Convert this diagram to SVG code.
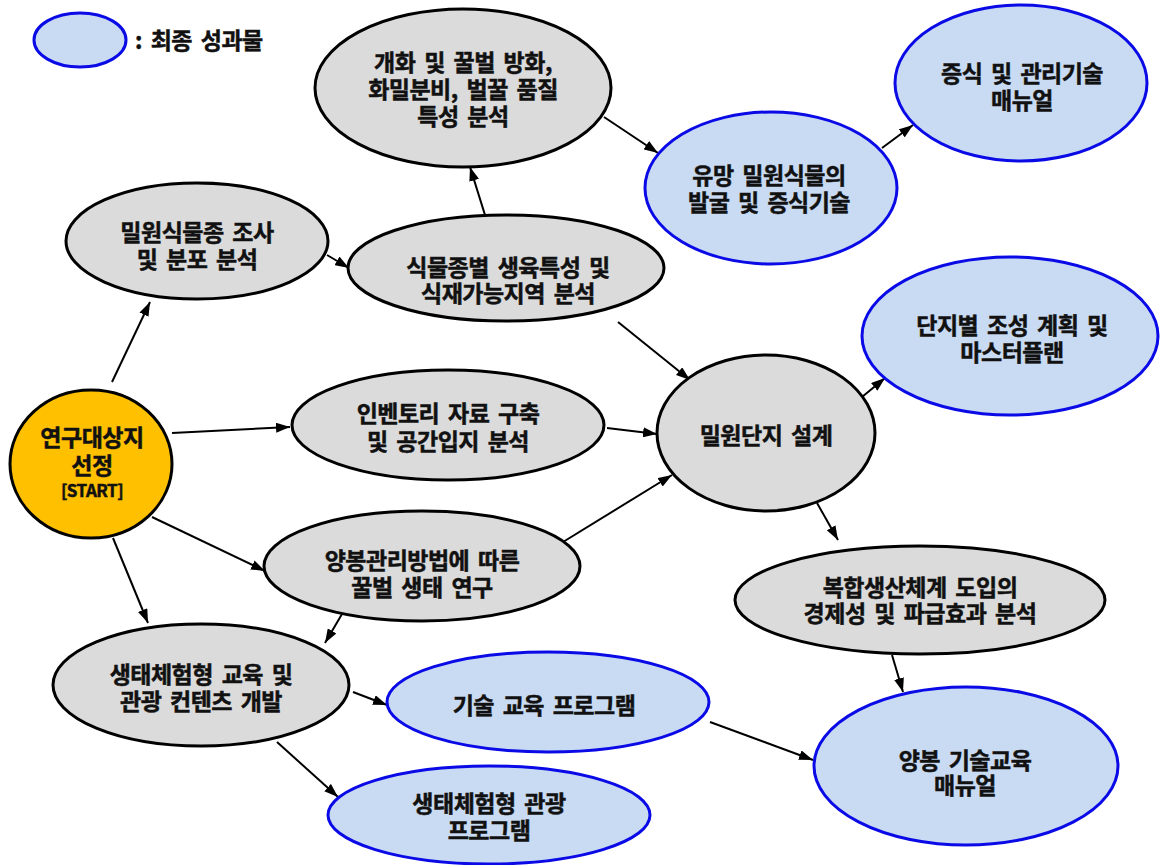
<svg xmlns="http://www.w3.org/2000/svg" width="1160" height="865" viewBox="0 0 1160 865">
<style>
.g{fill:#DBDBDB;stroke:#000;stroke-width:3}
.b{fill:#C9DBF3;stroke:#0A0AE6;stroke-width:3}
.y{fill:#FFC000;stroke:#000;stroke-width:3}
text{font-family:"Noto Sans CJK KR","Noto Sans",sans-serif;font-weight:bold;font-size:23px;letter-spacing:-0.5px;word-spacing:4px;fill:#111;stroke:#111;stroke-width:0.5;text-anchor:middle}
.c line{stroke:#000;stroke-width:2;marker-end:url(#ah)}
</style>
<defs>
<marker id="ah" viewBox="0 0 14 10" refX="14" refY="5" markerWidth="14" markerHeight="10" markerUnits="userSpaceOnUse" orient="auto"><path d="M0,0 L14,5 L0,10 z" fill="#000"/></marker>
</defs>
<rect width="1160" height="865" fill="#fff"/>
<g id="legend">
<ellipse class="b" cx="80" cy="40" rx="46" ry="27"/>
<text x="135" y="49" style="text-anchor:start">: 최종 성과물</text>
</g>
<g class="c" id="connectors">
<line x1="112" y1="382" x2="150" y2="302"/>
<line x1="327" y1="255" x2="349" y2="268"/>
<line x1="485" y1="215" x2="470" y2="167"/>
<line x1="604" y1="117" x2="658" y2="153"/>
<line x1="882" y1="148" x2="913" y2="125"/>
<line x1="172" y1="433" x2="290" y2="427"/>
<line x1="607" y1="428" x2="657" y2="434"/>
<line x1="618" y1="322" x2="690" y2="380"/>
<line x1="563" y1="542" x2="672" y2="475"/>
<line x1="862" y1="397" x2="885" y2="378"/>
<line x1="817" y1="503" x2="838" y2="540"/>
<line x1="152" y1="517" x2="265" y2="571"/>
<line x1="113" y1="538" x2="148" y2="623"/>
<line x1="342" y1="614" x2="325" y2="643"/>
<line x1="353" y1="692" x2="387" y2="705"/>
<line x1="277" y1="742" x2="338" y2="797"/>
<line x1="710" y1="722" x2="813" y2="760"/>
<line x1="892" y1="655" x2="903" y2="692"/>
</g>
<g id="start">
<ellipse class="y" cx="91" cy="464" rx="81" ry="74"/>
<text x="92" y="446">연구대상지<tspan x="92" dy="28">선정</tspan><tspan x="92" dy="23" style="font-size:17px">[START]</tspan></text>
</g>
<g id="n1">
<ellipse class="g" cx="197" cy="241" rx="131" ry="58"/>
<text x="197" y="241">밀원식물종 조사<tspan x="197" dy="27">및 분포 분석</tspan></text>
</g>
<g id="n2">
<ellipse class="g" cx="463" cy="88" rx="148" ry="79"/>
<text x="463" y="71">개화 및 꿀벌 방화,<tspan x="463" dy="27">화밀분비, 벌꿀 품질</tspan><tspan x="463" dy="27">특성 분석</tspan></text>
</g>
<g id="n3">
<ellipse class="b" cx="771" cy="188" rx="126" ry="76"/>
<text x="769" y="184">유망 밀원식물의<tspan x="769" dy="27">발굴 및 증식기술</tspan></text>
</g>
<g id="n4">
<ellipse class="b" cx="1021" cy="83" rx="126" ry="78"/>
<text x="1022" y="82">증식 및 관리기술<tspan x="1022" dy="27">매뉴얼</tspan></text>
</g>
<g id="n5">
<ellipse class="g" cx="506" cy="268" rx="158" ry="53"/>
<text x="508" y="276">식물종별 생육특성 및<tspan x="508" dy="26">식재가능지역 분석</tspan></text>
</g>
<g id="n6">
<ellipse class="b" cx="1010" cy="336" rx="148" ry="79"/>
<text x="1012" y="334">단지별 조성 계획 및<tspan x="1012" dy="27">마스터플랜</tspan></text>
</g>
<g id="n7">
<ellipse class="g" cx="448" cy="425" rx="156" ry="55"/>
<text x="448" y="422">인벤토리 자료 구축<tspan x="448" dy="28">및 공간입지 분석</tspan></text>
</g>
<g id="n8">
<ellipse class="g" cx="766" cy="433" rx="109" ry="78"/>
<text x="766" y="444">밀원단지 설계</text>
</g>
<g id="n9">
<ellipse class="g" cx="422" cy="566" rx="158" ry="55"/>
<text x="422" y="569">양봉관리방법에 따른<tspan x="422" dy="27">꿀벌 생태 연구</tspan></text>
</g>
<g id="n10">
<ellipse class="g" cx="920" cy="600" rx="185" ry="54"/>
<text x="920" y="596">복합생산체계 도입의<tspan x="920" dy="26">경제성 및 파급효과 분석</tspan></text>
</g>
<g id="n11">
<ellipse class="g" cx="201" cy="685" rx="148" ry="61"/>
<text x="201" y="683">생태체험형 교육 및<tspan x="201" dy="27">관광 컨텐츠 개발</tspan></text>
</g>
<g id="n12">
<ellipse class="b" cx="548" cy="702" rx="161" ry="50"/>
<text x="544" y="714">기술 교육 프로그램</text>
</g>
<g id="n13">
<ellipse class="b" cx="966" cy="766" rx="152" ry="79"/>
<text x="965" y="769">양봉 기술교육<tspan x="965" dy="25">매뉴얼</tspan></text>
</g>
<g id="n14">
<ellipse class="b" cx="489" cy="815" rx="161" ry="49"/>
<text x="489" y="812">생태체험형 관광<tspan x="489" dy="27">프로그램</tspan></text>
</g>
</svg>
